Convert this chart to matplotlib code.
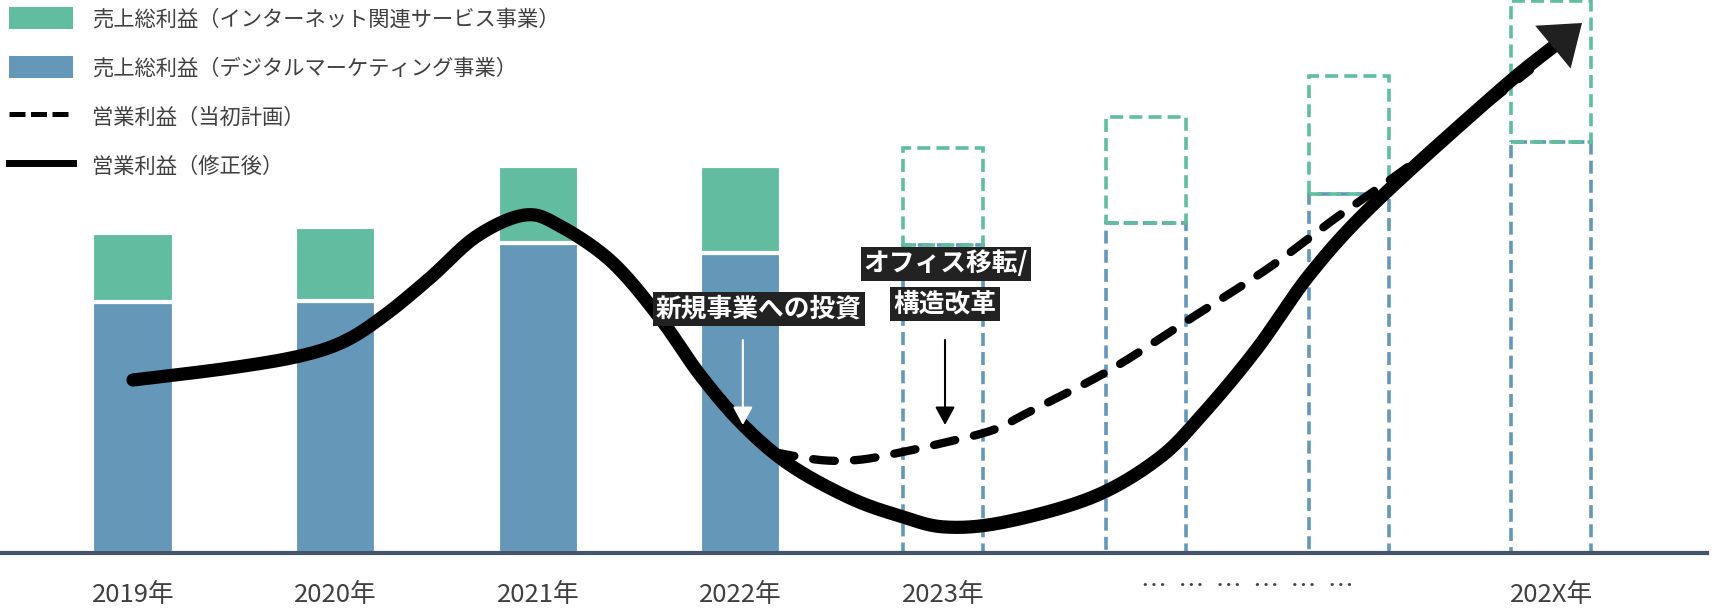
import numpy as np
import matplotlib.pyplot as plt
from matplotlib.lines import Line2D
from matplotlib.patches import Patch

plt.rcParams['font.family'] = ['Noto Sans CJK JP', 'DejaVu Sans']

GREEN = '#62BCA0'
BLUE = '#6497B8'
TEXT = '#404040'

# 売上総利益（棒）
positions = [0, 1, 2, 3, 4, 5, 6, 7]
digital_vals = [50.3, 50.4, 62.0, 60.0, 61.6, 66.0, 71.8, 82.2]
internet_vals = [13.7, 14.8, 15.4, 17.4, 19.4, 21.2, 23.6, 28.2]
n_actual = 4  # 2019〜2022年は実績、それ以降は計画（破線）

tick_pos = [0, 1, 2, 3, 4, 5.5, 7]
tick_labels = ['2019年', '2020年', '2021年', '2022年', '2023年',
               '…  …  …  …  …  …', '202X年']

# 営業利益（修正後）: last point = arrow tip
rev_x = [0.0, 0.479, 0.824, 1.046, 1.244, 1.466, 1.698, 1.935, 2.108, 2.364,
         2.601, 2.799, 3.011, 3.243, 3.539, 3.786, 4.008, 4.304, 4.738, 5.059,
         5.276, 5.543, 5.814, 6.135, 6.747, 7.009, 7.152]
rev_y = [34.6, 37.0, 39.4, 42.4, 47.6, 55.0, 63.4, 67.6, 65.4, 58.2,
         47.0, 35.6, 25.6, 17.6, 11.0, 7.4, 5.2, 6.2, 11.2, 18.8,
         27.6, 40.6, 56.0, 70.2, 92.6, 101.2, 106.0]

# 営業利益（当初計画）
plan_x = [3.159, 3.391, 3.574, 3.751, 3.998, 4.245, 4.413, 4.822, 5.232,
          5.464, 5.661, 5.923, 6.091, 6.338, 6.634, 6.895]
plan_y = [20.2, 18.6, 18.6, 19.8, 22.0, 24.6, 28.0, 36.6, 47.2,
          53.2, 58.6, 66.6, 71.4, 78.6, 88.2, 96.6]

# 注記
notes = ['新規事業への投資', 'オフィス移転/', '構造改革']
note_x = [3.09, 4.013, 4.008]
note_y = [48.8, 57.8, 49.8]
arrow_x = [3.01, 4.008]
arrow_from = 42.6
arrow_to = 25.6
arrow_colors = ['white', 'black']


def smooth(xs, ys, n=24):
    # Catmull-Rom spline through the read points
    p = np.column_stack([xs, ys])
    p = np.vstack([p[0], p, p[-1]])
    out = []
    t = np.linspace(0, 1, n, endpoint=False)[:, None]
    for i in range(1, len(p) - 2):
        p0, p1, p2, p3 = p[i - 1], p[i], p[i + 1], p[i + 2]
        seg = 0.5 * (2 * p1 + (-p0 + p2) * t
                     + (2 * p0 - 5 * p1 + 4 * p2 - p3) * t ** 2
                     + (-p0 + 3 * p1 - 3 * p2 + p3) * t ** 3)
        out.append(seg)
    out.append(p[-2][None])
    out = np.vstack(out)
    return out[:, 0], out[:, 1]


fig = plt.figure(figsize=(17.13, 6.10), dpi=100)
ax = fig.add_axes([0, 57 / 610, 1707 / 1713, 553 / 610])
ax.set_xlim(-133 / 202.6, (1707 - 133) / 202.6)
ax.set_ylim(0, 110.6)

# actual bars
ax.bar(positions[:n_actual], digital_vals[:n_actual], width=0.4, color=BLUE,
       edgecolor='white', linewidth=3, zorder=2)
ax.bar(positions[:n_actual], internet_vals[:n_actual], bottom=digital_vals[:n_actual],
       width=0.4, color=GREEN, edgecolor='white', linewidth=3, zorder=2)

# plan bars (dashed outlines)
ax.bar(positions[n_actual:], digital_vals[n_actual:], width=0.395, fill=False,
       edgecolor=BLUE, linewidth=2.6, linestyle=(0, (3.6, 1.7)), zorder=2)
ax.bar(positions[n_actual:], internet_vals[n_actual:], bottom=digital_vals[n_actual:],
       width=0.395, fill=False, edgecolor=GREEN, linewidth=2.6,
       linestyle=(0, (3.6, 1.7)), zorder=2)

# operating profit lines
px, py = smooth(plan_x, plan_y)
ax.plot(px, py, color='black', lw=6, dashes=(2.6, 2.3), dash_capstyle='round', zorder=4)

sx, sy = smooth(rev_x[:-1], rev_y[:-1])
ax.plot(sx, sy, color='black', lw=9.5, solid_capstyle='round', zorder=5)
ax.annotate('', xy=(rev_x[-1], rev_y[-1]), xytext=(rev_x[-2], rev_y[-2]),
            arrowprops=dict(arrowstyle='-|>,head_length=0.68,head_width=0.5',
                            mutation_scale=40, color='#202020', lw=0,
                            shrinkA=0, shrinkB=0), zorder=6)

# annotations
for txt, x, y in zip(notes, note_x, note_y):
    ax.text(x, y, txt, color='white', fontsize=18.5, fontweight='bold',
            ha='center', va='center', zorder=7,
            bbox=dict(boxstyle='square,pad=0.12', fc='#222222', ec='none'))
for x, c in zip(arrow_x, arrow_colors):
    ax.annotate('', xy=(x, arrow_to), xytext=(x, arrow_from),
                arrowprops=dict(arrowstyle='-|>,head_length=0.55,head_width=0.3',
                                mutation_scale=20, color=c, lw=1.5,
                                shrinkA=0, shrinkB=0), zorder=7)

# x labels
for x, lab in zip(tick_pos, tick_labels):
    dy = 1.6 if lab.startswith('…') else 0
    ax.text(x, -8.4 + dy, lab, color=TEXT, fontsize=18.5, ha='center', va='center')

for side in ['top', 'left', 'right']:
    ax.spines[side].set_visible(False)
ax.spines['bottom'].set_color('#44546A')
ax.spines['bottom'].set_linewidth(3)
ax.spines['bottom'].set_zorder(3)
ax.set_xticks([])
ax.set_yticks([])
ax.patch.set_alpha(0)

handles = [
    Patch(facecolor=GREEN, edgecolor='none'),
    Patch(facecolor=BLUE, edgecolor='none'),
    Line2D([], [], color='black', lw=3.6, dashes=(3.2, 1.1)),
    Line2D([], [], color='black', lw=5),
]
labels = ['売上総利益（インターネット関連サービス事業）',
          '売上総利益（デジタルマーケティング事業）',
          '営業利益（当初計画）',
          '営業利益（修正後）']
leg = ax.legend(handles, labels, loc='upper left',
                bbox_to_anchor=(9 / 1707, 1 - 7 / 553), frameon=False,
                fontsize=15.3, handlelength=3.0, handleheight=1.22,
                handletextpad=0.9, labelspacing=1.22, borderpad=0,
                borderaxespad=0)
for t in leg.get_texts():
    t.set_color(TEXT)

fig.savefig('out.png', dpi=100)
